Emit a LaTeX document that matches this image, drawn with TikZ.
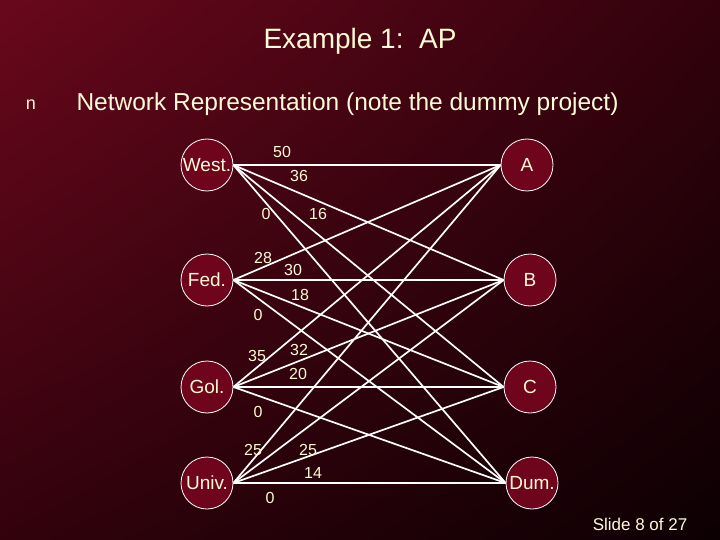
\documentclass[tikz,border=0pt]{standalone}
\usepackage{fontspec}
\setmainfont{Liberation Sans}
\usetikzlibrary{shadings}
\definecolor{bgtl}{RGB}{105,8,28}
\definecolor{bgbr}{RGB}{12,0,3}
\definecolor{bgmid}{RGB}{50,2,12}
\definecolor{nodefill}{RGB}{110,5,28}
\definecolor{cream}{RGB}{255,250,215}
\tikzset{
  site/.style={circle,draw=white,thick,fill=nodefill,minimum size=52pt,inner sep=0pt,text=cream,font=\fontsize{19}{19}\selectfont},
  arc/.style={white,line width=1.7pt},
  cost/.style={text=cream,font=\fontsize{16}{16}\selectfont}
}
\begin{document}
\begin{tikzpicture}[x=1pt,y=-1pt]
\useasboundingbox (0,0) rectangle (720,540);
\shade[upper left=bgtl,upper right=bgmid,lower left=bgmid,lower right=bgbr] (0,0) rectangle (720,540);

\node[text=cream,font=\fontsize{28}{28}\selectfont] (title) at (360,41) {Example 1:\ \ AP};
\node[text=cream,font=\fontsize{18}{18}\selectfont] (bul) at (31,105) {n};
\node[anchor=west,text=cream,font=\fontsize{24.5}{24.5}\selectfont] (sub) at (73,104) {Network Representation (note the dummy project)};

\node[site] (W) at (207,165) {West.};
\node[site] (F) at (207,280) {Fed.};
\node[site] (G) at (207,387) {Gol.};
\node[site] (U) at (207,483) {Univ.};
\node[site] (A) at (527,165) {A};
\node[site] (B) at (530,280) {B};
\node[site] (C) at (530,387) {C};
\node[site] (D) at (532,483) {Dum.};

\foreach \s in {W,F,G,U}
  \foreach \t in {A,B,C,D}
    \draw[arc] (\s.east) -- (\t.west);

\node[cost] (c1) at (282,152) {50};
\node[cost] (c2) at (299,176) {36};
\node[cost] (c3) at (266,214) {0};
\node[cost] (c4) at (318,214) {16};
\node[cost] (c5) at (263,258) {28};
\node[cost] (c6) at (293,270) {30};
\node[cost] (c7) at (300,295) {18};
\node[cost] (c8) at (258,315) {0};
\node[cost] (c9) at (257,356) {35};
\node[cost] (c10) at (299,350) {32};
\node[cost] (c11) at (298,374) {20};
\node[cost] (c12) at (258,412) {0};
\node[cost] (c13) at (253,450) {25};
\node[cost] (c14) at (308,450) {25};
\node[cost] (c15) at (313,473) {14};
\node[cost] (c16) at (270,498) {0};

\node[text=cream,font=\fontsize{17}{17}\selectfont] (slide) at (640,524) {Slide 8 of 27};
\end{tikzpicture}
\end{document}
